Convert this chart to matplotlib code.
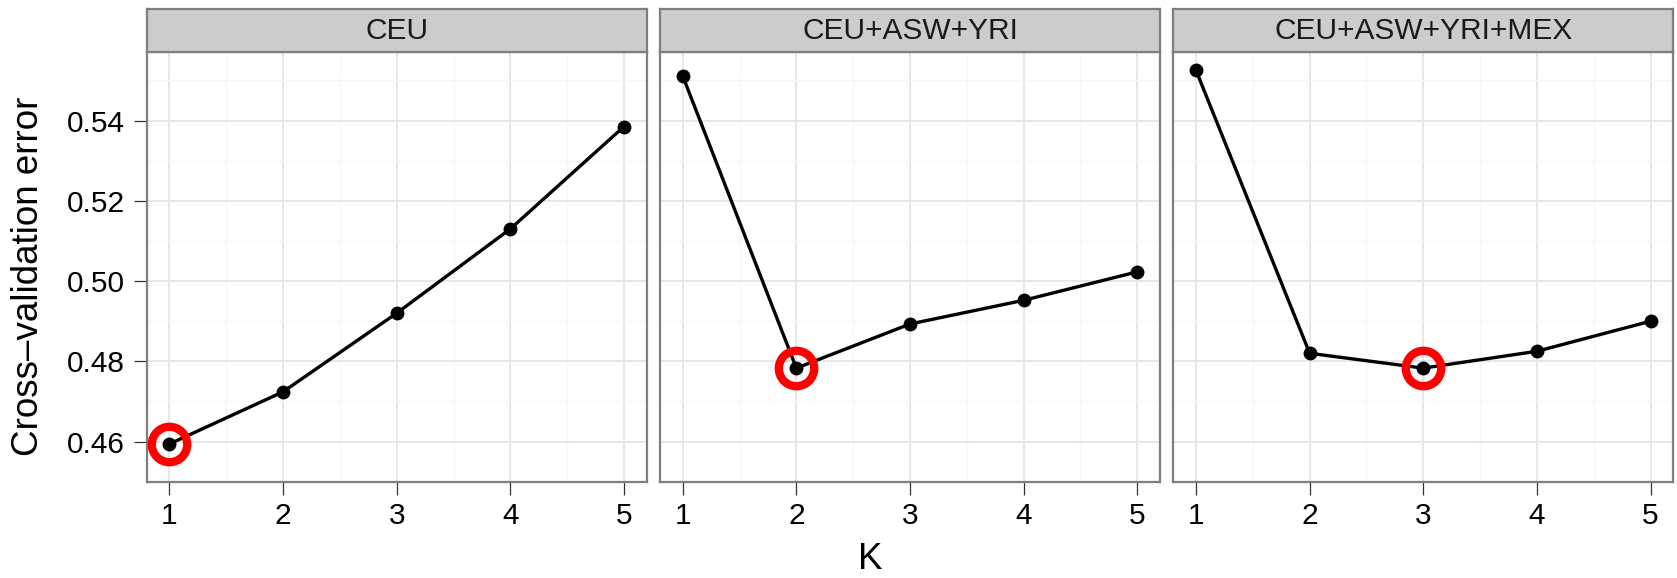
import matplotlib
matplotlib.use("Agg")
import matplotlib.pyplot as plt
import numpy as np

plt.rcParams['font.family'] = ['Liberation Sans', 'DejaVu Sans']

# cross-validation error for K = 1..5, one panel per reference panel set
K = [1, 2, 3, 4, 5]
panels = ["CEU", "CEU+ASW+YRI", "CEU+ASW+YRI+MEX"]
cv_ceu = [0.4594, 0.4724, 0.4920, 0.5130, 0.5385]
cv_ceu_asw_yri = [0.5511, 0.4783, 0.4893, 0.4952, 0.5023]
cv_ceu_asw_yri_mex = [0.5525, 0.4820, 0.4783, 0.4825, 0.4900]
series = [cv_ceu, cv_ceu_asw_yri, cv_ceu_asw_yri_mex]
yticks = [0.46, 0.48, 0.50, 0.52, 0.54]

W, H = 1677, 578
fig = plt.figure(figsize=(W / 100, H / 100), dpi=100)

# ggplot-like 5% expansion on both axes, y shared by all panels
allv = np.concatenate(series)
yr = allv.max() - allv.min()
ylim = (allv.min() - 0.05 * yr, allv.max() + 0.05 * yr)
xr = max(K) - min(K)
xlim = (min(K) - 0.05 * xr, max(K) + 0.05 * xr)

lefts = [146.7, 660.0, 1173.3]
pw = 500.0
pbot, ptop, stop = 481.7, 51.7, 9.0
border = "#7F7F7F"

for i, (name, vals) in enumerate(zip(panels, series)):
    ax = fig.add_axes([lefts[i] / W, (H - pbot) / H, pw / W, (pbot - ptop) / H])
    ax.set_xlim(xlim)
    ax.set_ylim(ylim)
    ax.set_xticks(K)
    ax.set_yticks(yticks)
    ax.set_xticks([1.5, 2.5, 3.5, 4.5], minor=True)
    ax.set_yticks([0.45, 0.47, 0.49, 0.51, 0.53, 0.55], minor=True)
    ax.grid(which='major', color='#E5E5E5', lw=1.3)
    ax.grid(which='minor', color='#F7F7F7', lw=1.0)
    ax.set_axisbelow(True)
    ax.tick_params(which='major', direction='out', length=9.5, width=0.9,
                   color='#333333', labelsize=21.5, pad=6, labelcolor='black')
    ax.tick_params(which='minor', length=0)
    ax.tick_params(axis='x', pad=5)
    if i == 0:
        ax.set_yticklabels(["%.2f" % v for v in yticks])
    else:
        ax.tick_params(axis='y', length=0, labelleft=False)
    for s in ax.spines.values():
        s.set_color(border)
        s.set_linewidth(1.6)

    ax.plot(K, vals, color='black', lw=2.4, marker='o', ms=10, mew=0, zorder=3)
    m = int(np.argmin(vals))
    ax.plot(K[m], vals[m], marker='o', ms=25.5, mfc='none', mec='#FF0000', mew=6, zorder=4)

    # facet strip
    sx = fig.add_axes([lefts[i] / W, (H - ptop) / H, pw / W, (ptop - stop) / H])
    sx.set_facecolor('#CCCCCC')
    sx.set_xticks([])
    sx.set_yticks([])
    for s in sx.spines.values():
        s.set_color(border)
        s.set_linewidth(1.6)
    sx.text(0.5, 0.48, name, ha='center', va='center', fontsize=21.5, color='#1A1A1A',
            transform=sx.transAxes)

fig.text(28.3 / W, 1 - 276 / H, "Cross\u2013validation error", rotation=90,
         ha='center', va='center', fontsize=26.5)
fig.text(870 / W, 1 / H, "K", ha='center', va='bottom', fontsize=26.5)

fig.savefig("out.png", dpi=100)
